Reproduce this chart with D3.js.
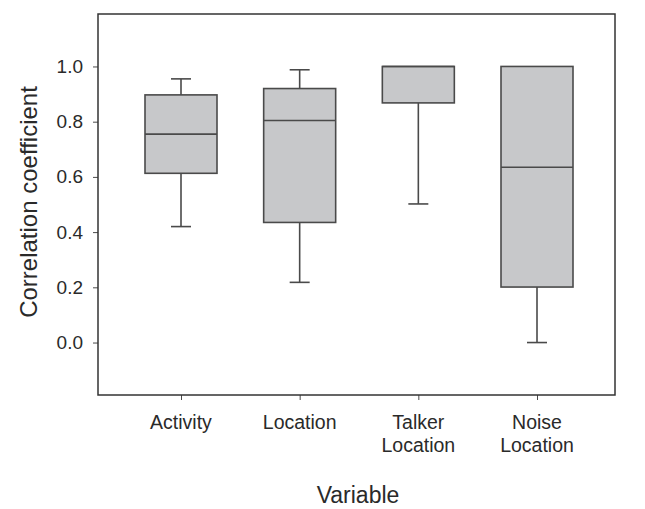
<!DOCTYPE html>
<html>
<head>
<meta charset="utf-8">
<script src="https://cdn.jsdelivr.net/npm/d3@7"></script>
<style>
  body { margin: 0; background: #fff; }
  text { font-family: "Liberation Sans", Arial, sans-serif; fill: #2a2a2a; }
</style>
</head>
<body>
<svg id="chart" width="645" height="509"></svg>
<script>
// categories (multi-line labels split on \n)
const categories = ["Activity", "Location", "Talker\nLocation", "Noise\nLocation"];
// box stats
const whiskerLow = [0.42, 0.218, 0.502, 0.0];
const q1 = [0.613, 0.435, 0.868, 0.201];
const median = [0.755, 0.804, 1.0, 0.635];
const q3 = [0.897, 0.92, 1.0, 1.0];
const whiskerHigh = [0.955, 0.988, 1.0, 1.0];
const yTicks = [0.0, 0.2, 0.4, 0.6, 0.8, 1.0];

const svg = d3.select("#chart");
const plotLeft = 98, plotRight = 615, plotTop = 14, plotBottom = 395;

const x = d3.scalePoint()
  .domain(categories)
  .range([181, 537]);

const y = d3.scaleLinear()
  .domain([-0.19, 1.19])
  .range([plotBottom, plotTop]);

const boxW = 72, capW = 20;
const stroke = "#4a4a4a";

// y axis
const yAxis = svg.append("g")
  .attr("transform", `translate(${plotLeft},0)`)
  .call(d3.axisLeft(y).tickValues(yTicks).tickSize(5).tickPadding(10).tickFormat(d3.format(".1f")));
yAxis.select(".domain").remove();
yAxis.selectAll("line").attr("stroke", stroke);
yAxis.selectAll("text").attr("font-size", 19).attr("fill", "#2a2a2a")
  .attr("font-family", "Liberation Sans, Arial, sans-serif");

// x axis
const xAxis = svg.append("g")
  .attr("transform", `translate(0,${plotBottom})`)
  .call(d3.axisBottom(x).tickSize(5).tickFormat(""));
xAxis.select(".domain").remove();
xAxis.selectAll("line").attr("stroke", stroke);

// category labels
categories.forEach(c => {
  const lines = c.split("\n");
  const t = svg.append("text")
    .attr("x", x(c))
    .attr("y", 429)
    .attr("text-anchor", "middle")
    .attr("font-size", 19.5);
  lines.forEach((l, i) => {
    t.append("tspan").attr("x", x(c)).attr("dy", i === 0 ? 0 : 23).text(l);
  });
});

// frame
svg.append("rect")
  .attr("x", plotLeft).attr("y", plotTop)
  .attr("width", plotRight - plotLeft).attr("height", plotBottom - plotTop)
  .attr("fill", "none").attr("stroke", "#333").attr("stroke-width", 1.5);

// boxes
const g = svg.append("g");
categories.forEach((c, i) => {
  const cx = x(c);
  // whiskers
  g.append("line").attr("x1", cx).attr("x2", cx)
    .attr("y1", y(whiskerLow[i])).attr("y2", y(q1[i]))
    .attr("stroke", stroke).attr("stroke-width", 1.6);
  g.append("line").attr("x1", cx).attr("x2", cx)
    .attr("y1", y(whiskerHigh[i])).attr("y2", y(q3[i]))
    .attr("stroke", stroke).attr("stroke-width", 1.6);
  // caps
  if (whiskerLow[i] < q1[i]) {
    g.append("line").attr("x1", cx - capW / 2).attr("x2", cx + capW / 2)
      .attr("y1", y(whiskerLow[i])).attr("y2", y(whiskerLow[i]))
      .attr("stroke", stroke).attr("stroke-width", 1.6);
  }
  if (whiskerHigh[i] > q3[i]) {
    g.append("line").attr("x1", cx - capW / 2).attr("x2", cx + capW / 2)
      .attr("y1", y(whiskerHigh[i])).attr("y2", y(whiskerHigh[i]))
      .attr("stroke", stroke).attr("stroke-width", 1.6);
  }
  // box
  g.append("rect")
    .attr("x", cx - boxW / 2).attr("y", y(q3[i]))
    .attr("width", boxW).attr("height", y(q1[i]) - y(q3[i]))
    .attr("fill", "#c7c8ca").attr("stroke", stroke).attr("stroke-width", 1.6);
  // median
  g.append("line").attr("x1", cx - boxW / 2).attr("x2", cx + boxW / 2)
    .attr("y1", y(median[i])).attr("y2", y(median[i]))
    .attr("stroke", stroke).attr("stroke-width", 1.6);
});

// axis titles
svg.append("text")
  .attr("transform", "translate(37,202) rotate(-90)")
  .attr("text-anchor", "middle")
  .attr("font-size", 24)
  .text("Correlation coefficient");

svg.append("text")
  .attr("x", 358).attr("y", 503)
  .attr("text-anchor", "middle")
  .attr("font-size", 23)
  .text("Variable");
</script>
</body>
</html>
